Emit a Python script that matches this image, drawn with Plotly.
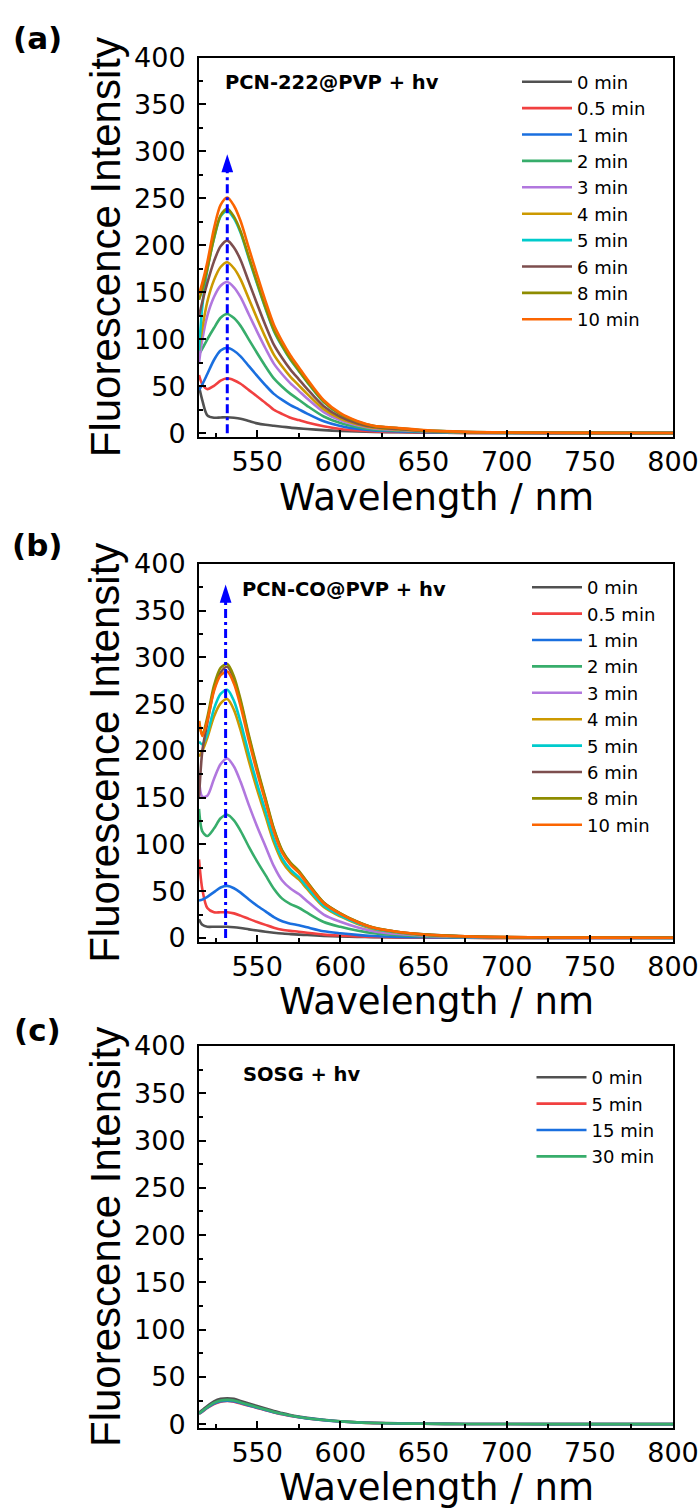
import plotly.graph_objects as go

# ---------------- data ----------------
wavelength = [515, 517, 520, 524, 528, 532, 536, 540, 545, 550, 555, 560, 565, 570,
              575, 580, 590, 600, 610, 620, 635, 650, 675, 700, 750, 800]

# (a) PCN-222@PVP + hv
a_0min = [50, 35, 19, 16.5, 16.8, 17, 16.5, 15.5, 13, 10.5, 9, 8, 7, 6, 5.2, 4.5, 3.3, 2.4, 1.8, 1.4, 1.0, 0.7, 0.4, 0.3, 0.2, 0.1]
a_05min = [62, 52, 47, 50.5, 56, 58.5, 56.5, 52.7, 45.9, 39.2, 32.3, 25, 20.5, 16.5, 14, 11.5, 7.5, 4.6, 2.9, 1.9, 1.3, 0.8, 0.4, 0.2, 0.1, 0.1]
a_1min = [46, 52, 63, 78, 88, 91, 87.8, 81.9, 71.4, 61.0, 51.0, 41.9, 35.5, 30.0, 25.5, 20.9, 12.7, 7.7, 4.7, 2.9, 2.0, 1.2, 0.5, 0.3, 0.1, 0.1]
a_2min = [84, 90, 100, 112, 123, 127, 122.6, 114.3, 99.7, 85.1, 71.1, 58.4, 49.5, 41.9, 35.6, 29.2, 17.8, 10.8, 6.6, 4.1, 2.8, 1.7, 0.8, 0.4, 0.2, 0.1]
a_3min = [75, 100, 125, 145, 157, 161, 155.4, 144.9, 126.4, 107.9, 90.2, 74.1, 62.8, 53.1, 45.1, 37.0, 22.5, 13.7, 8.4, 5.2, 3.5, 2.1, 1.0, 0.5, 0.2, 0.2]
a_4min = [88, 112, 140, 163, 177, 182, 175.6, 163.8, 142.9, 121.9, 101.9, 83.7, 71.0, 60.1, 51.0, 41.9, 25.5, 15.5, 9.5, 5.8, 4.0, 2.4, 1.1, 0.5, 0.3, 0.2]
a_5min = [88, 135, 174, 207, 231, 237, 228.7, 213.3, 186.0, 158.8, 132.7, 109.0, 92.4, 78.2, 66.4, 54.5, 33.2, 20.1, 12.3, 7.6, 5.2, 3.1, 1.4, 0.7, 0.4, 0.2]
a_6min = [124, 140, 160, 183, 199, 205, 197.8, 184.5, 160.9, 137.4, 114.8, 94.3, 80.0, 67.7, 57.4, 47.2, 28.7, 17.4, 10.7, 6.6, 4.5, 2.7, 1.2, 0.6, 0.3, 0.2]
a_8min = [142, 153, 175, 208, 232, 239, 230.6, 215.1, 187.6, 160.1, 133.8, 109.9, 93.2, 78.9, 66.9, 55.0, 33.5, 20.3, 12.4, 7.6, 5.3, 3.1, 1.4, 0.7, 0.4, 0.2]
a_10min = [148, 160, 182, 218, 243, 251, 242.2, 225.9, 197.0, 168.2, 140.6, 115.5, 97.9, 82.8, 70.3, 57.7, 35.1, 21.3, 13.1, 8.0, 5.5, 3.3, 1.5, 0.8, 0.4, 0.3]

# (b) PCN-CO@PVP + hv
b_0min = [20, 14, 12, 12, 12, 12, 11.5, 10.6, 9.2, 7.9, 6.7, 5.6, 4.7, 4.1, 3.6, 3.1, 2.2, 1.6, 1.2, 0.9, 0.6, 0.4, 0.2, 0.1, 0.1, 0.0]
b_05min = [84, 52, 32, 27.5, 27.5, 27.5, 26.3, 23.9, 20.4, 17.1, 14.0, 11.0, 8.8, 7.6, 6.7, 5.6, 3.6, 2.5, 1.7, 1.0, 0.6, 0.4, 0.2, 0.1, 0.1, 0.0]
b_1min = [40, 41, 44, 49, 54, 55.7, 53.2, 48.5, 41.2, 34.5, 28.4, 22.3, 17.8, 15.3, 13.6, 11.4, 7.2, 5.0, 3.3, 2.1, 1.2, 0.7, 0.3, 0.2, 0.1, 0.1]
b_2min = [138, 114, 109, 117, 128, 131.7, 125.8, 114.6, 97.5, 81.7, 67.2, 52.7, 42.1, 36.2, 32.3, 27.0, 17.1, 11.9, 7.9, 5.0, 2.9, 1.7, 0.8, 0.4, 0.2, 0.1]
b_3min = [170, 151, 152, 170, 186, 192, 183.4, 167.0, 142.1, 119.0, 97.9, 76.8, 61.4, 52.8, 47.0, 39.4, 25.0, 17.3, 11.5, 7.3, 4.2, 2.5, 1.2, 0.6, 0.3, 0.2]
b_4min = [194, 200, 214, 237, 251, 255.5, 244.0, 222.3, 189.1, 158.4, 130.3, 102.2, 81.8, 70.3, 62.6, 52.4, 33.2, 23.0, 15.3, 9.7, 5.6, 3.3, 1.5, 0.8, 0.4, 0.3]
b_5min = [210, 207, 218, 245, 261, 265.5, 253.6, 231.0, 196.5, 164.6, 135.4, 106.2, 85.0, 73.0, 65.0, 54.4, 34.5, 23.9, 15.9, 10.1, 5.8, 3.5, 1.6, 0.8, 0.4, 0.3]
b_6min = [150, 200, 230, 266, 284, 290, 277.0, 252.3, 214.6, 179.8, 147.9, 116.0, 92.8, 79.8, 71.1, 59.5, 37.7, 26.1, 17.4, 11.0, 6.4, 3.8, 1.7, 0.9, 0.4, 0.3]
b_8min = [232, 217, 236, 270, 289, 293, 279.8, 254.9, 216.8, 181.7, 149.4, 117.2, 93.8, 80.6, 71.8, 60.1, 38.1, 26.4, 17.6, 11.1, 6.4, 3.8, 1.8, 0.9, 0.4, 0.3]
b_10min = [232, 216, 232, 264, 281, 285, 272.2, 248.0, 210.9, 176.7, 145.4, 114.0, 91.2, 78.4, 69.8, 58.4, 37.1, 25.7, 17.1, 10.8, 6.3, 3.7, 1.7, 0.9, 0.4, 0.3]

# (c) SOSG + hv
c_0min = [12.3, 15, 19.3, 24.1, 26.8, 27.5, 26.8, 24.6, 21.9, 19.3, 16.6, 13.9, 11.8, 9.8, 8.2, 6.8, 4.7, 3.2, 2.1, 1.4, 0.9, 0.5, 0.3, 0.2, 0.1, 0.1]
c_5min = [11.0, 13.3, 17.2, 21.4, 23.8, 24.5, 23.8, 21.9, 19.5, 17.2, 14.8, 12.4, 10.5, 8.8, 7.3, 6.1, 4.2, 2.9, 1.9, 1.2, 0.8, 0.5, 0.3, 0.2, 0.1, 0.1]
c_15min = [11.2, 13.6, 17.5, 21.9, 24.3, 25.0, 24.3, 22.4, 19.9, 17.5, 15.1, 12.6, 10.7, 9.0, 7.5, 6.2, 4.3, 2.9, 1.9, 1.3, 0.8, 0.5, 0.3, 0.2, 0.1, 0.1]
c_30min = [11.5, 14, 18, 22.5, 25, 25.7, 25, 23, 20.5, 18, 15.5, 13, 11, 9.2, 7.7, 6.4, 4.4, 3.0, 2.0, 1.3, 0.8, 0.5, 0.3, 0.2, 0.1, 0.1]

labels_ab = ["0 min", "0.5 min", "1 min", "2 min", "3 min", "4 min", "5 min", "6 min", "8 min", "10 min"]
labels_c = ["0 min", "5 min", "15 min", "30 min"]
series_a = [a_0min, a_05min, a_1min, a_2min, a_3min, a_4min, a_5min, a_6min, a_8min, a_10min]
series_b = [b_0min, b_05min, b_1min, b_2min, b_3min, b_4min, b_5min, b_6min, b_8min, b_10min]
series_c = [c_0min, c_5min, c_15min, c_30min]

colors = ["#515151", "#F14040", "#1A6FDF", "#37AD6B", "#B177DE",
          "#CC9900", "#00CBCC", "#7D4E4E", "#8E8C00", "#FB6501"]

x_ticks = [550, 600, 650, 700, 750, 800]
x_minor = [525, 575, 625, 675, 725, 775]
y_ticks = [0, 50, 100, 150, 200, 250, 300, 350, 400]
y_minor = [25, 75, 125, 175, 225, 275, 325, 375]

# arrow (peak position, line top, arrow tip)
arrow_a = (532, 287, 297)
arrow_b = (531, 368, 378)

# ---------------- figure ----------------
W, H = 700, 1508
fig = go.Figure()

panels = [
    ("x", "y", "legend", series_a, labels_ab, arrow_a),
    ("x2", "y2", "legend2", series_b, labels_ab, arrow_b),
    ("x3", "y3", "legend3", series_c, labels_c, None),
]

for xa, ya, lg, series, labels, arrow in panels:
    for i, (vals, lab) in enumerate(zip(series, labels)):
        fig.add_trace(go.Scatter(
            x=wavelength, y=vals, name=lab, mode="lines",
            line=dict(color=colors[i], width=2.6, shape="spline", smoothing=0.8),
            xaxis=xa, yaxis=ya, legend=lg))
    if arrow is not None:
        ax_x, ax_top, ax_tip = arrow
        fig.add_trace(go.Scatter(
            x=[ax_x, ax_x], y=[0, ax_top], mode="lines",
            line=dict(color="#0000FF", width=3, dash="9px,4px,3px,4px"),
            xaxis=xa, yaxis=ya, showlegend=False, hoverinfo="skip"))
        fig.add_trace(go.Scatter(
            x=[ax_x], y=[ax_tip], mode="markers",
            marker=dict(symbol="arrow", size=19, angle=0, color="#0000FF",
                        line=dict(width=0)),
            xaxis=xa, yaxis=ya, showlegend=False, hoverinfo="skip"))


def px_x(p):
    return p / W


def px_y(p):
    return 1 - p / H


x_dom = [px_x(199), px_x(673)]
y_doms = [[px_y(437), px_y(57.5)], [px_y(941.7), px_y(564)], [px_y(1428), px_y(1046)]]

tick_font = dict(family="DejaVu Sans", size=27, color="black")


def xaxis_cfg(anchor):
    return dict(domain=x_dom, range=[515, 800], anchor=anchor, automargin=False,
                showline=True, linecolor="black", linewidth=2, mirror=True,
                ticks="inside", ticklen=7, tickwidth=2, tickcolor="black",
                tickvals=x_ticks, tickfont=tick_font, ticklabelstandoff=0,
                minor=dict(ticks="inside", ticklen=4, tickwidth=2, tickcolor="black",
                           tickvals=x_minor),
                showgrid=False, zeroline=False)


def yaxis_cfg(anchor, dom):
    return dict(domain=dom, range=[-4, 400], anchor=anchor, automargin=False,
                showline=True, linecolor="black", linewidth=2, mirror=True,
                ticks="inside", ticklen=7, tickwidth=2, tickcolor="black",
                tickvals=y_ticks, tickfont=tick_font, ticklabelstandoff=6,
                minor=dict(ticks="inside", ticklen=4, tickwidth=2, tickcolor="black",
                           tickvals=y_minor),
                showgrid=False, zeroline=False)


leg_common = dict(xanchor="left", yanchor="top", bgcolor="rgba(0,0,0,0)",
                  borderwidth=0, itemwidth=50, tracegroupgap=0,
                  font=dict(family="DejaVu Sans", size=18, color="black"))

annotations = []
panel_tags = ["(a)", "(b)", "(c)"]
tag_y = [38, 545, 1030]
inset_txt = ["PCN-222@PVP + hv", "PCN-CO@PVP + hv", "SOSG + hv"]
inset_pos = [(223, 82), (240, 590), (241, 1074)]
ytitle_cy = [247.25, 752.85, 1237]
xtitle_cy = [497.5, 1001.5, 1487]

for k in range(3):
    annotations.append(dict(text="<b>%s</b>" % panel_tags[k], x=px_x(37.5), y=px_y(tag_y[k]),
                            xref="paper", yref="paper", showarrow=False,
                            xanchor="center", yanchor="middle",
                            font=dict(family="DejaVu Sans", size=31, color="black")))
    annotations.append(dict(text="<b>%s</b>" % inset_txt[k], x=px_x(inset_pos[k][0]),
                            y=px_y(inset_pos[k][1]), xref="paper", yref="paper",
                            showarrow=False, xanchor="left", yanchor="middle",
                            font=dict(family="DejaVu Sans", size=19.5, color="black")))
    annotations.append(dict(text="Fluorescence Intensity", textangle=-90,
                            x=px_x(105), y=px_y(ytitle_cy[k]), xref="paper", yref="paper",
                            showarrow=False, xanchor="center", yanchor="middle",
                            font=dict(family="Liberation Sans", size=42, color="black")))
    annotations.append(dict(text="Wavelength / nm", x=px_x(436), y=px_y(xtitle_cy[k]),
                            xref="paper", yref="paper", showarrow=False,
                            xanchor="center", yanchor="middle",
                            font=dict(family="DejaVu Sans", size=37, color="black")))

fig.update_layout(
    width=W, height=H, autosize=False,
    margin=dict(l=0, r=0, t=0, b=0, pad=0),
    paper_bgcolor="white", plot_bgcolor="white",
    showlegend=True,
    xaxis=xaxis_cfg("y"), yaxis=yaxis_cfg("x", y_doms[0]),
    xaxis2=xaxis_cfg("y2"), yaxis2=yaxis_cfg("x2", y_doms[1]),
    xaxis3=xaxis_cfg("y3"), yaxis3=yaxis_cfg("x3", y_doms[2]),
    legend=dict(x=px_x(517), y=px_y(63.5), **leg_common),
    legend2=dict(x=px_x(527), y=px_y(569), **leg_common),
    legend3=dict(x=px_x(531.5), y=px_y(1059), **leg_common),
    annotations=annotations,
)

fig.write_html("out.html", config={"displayModeBar": False},
               post_script="document.body.style.margin='0px';document.body.style.padding='0px';")
